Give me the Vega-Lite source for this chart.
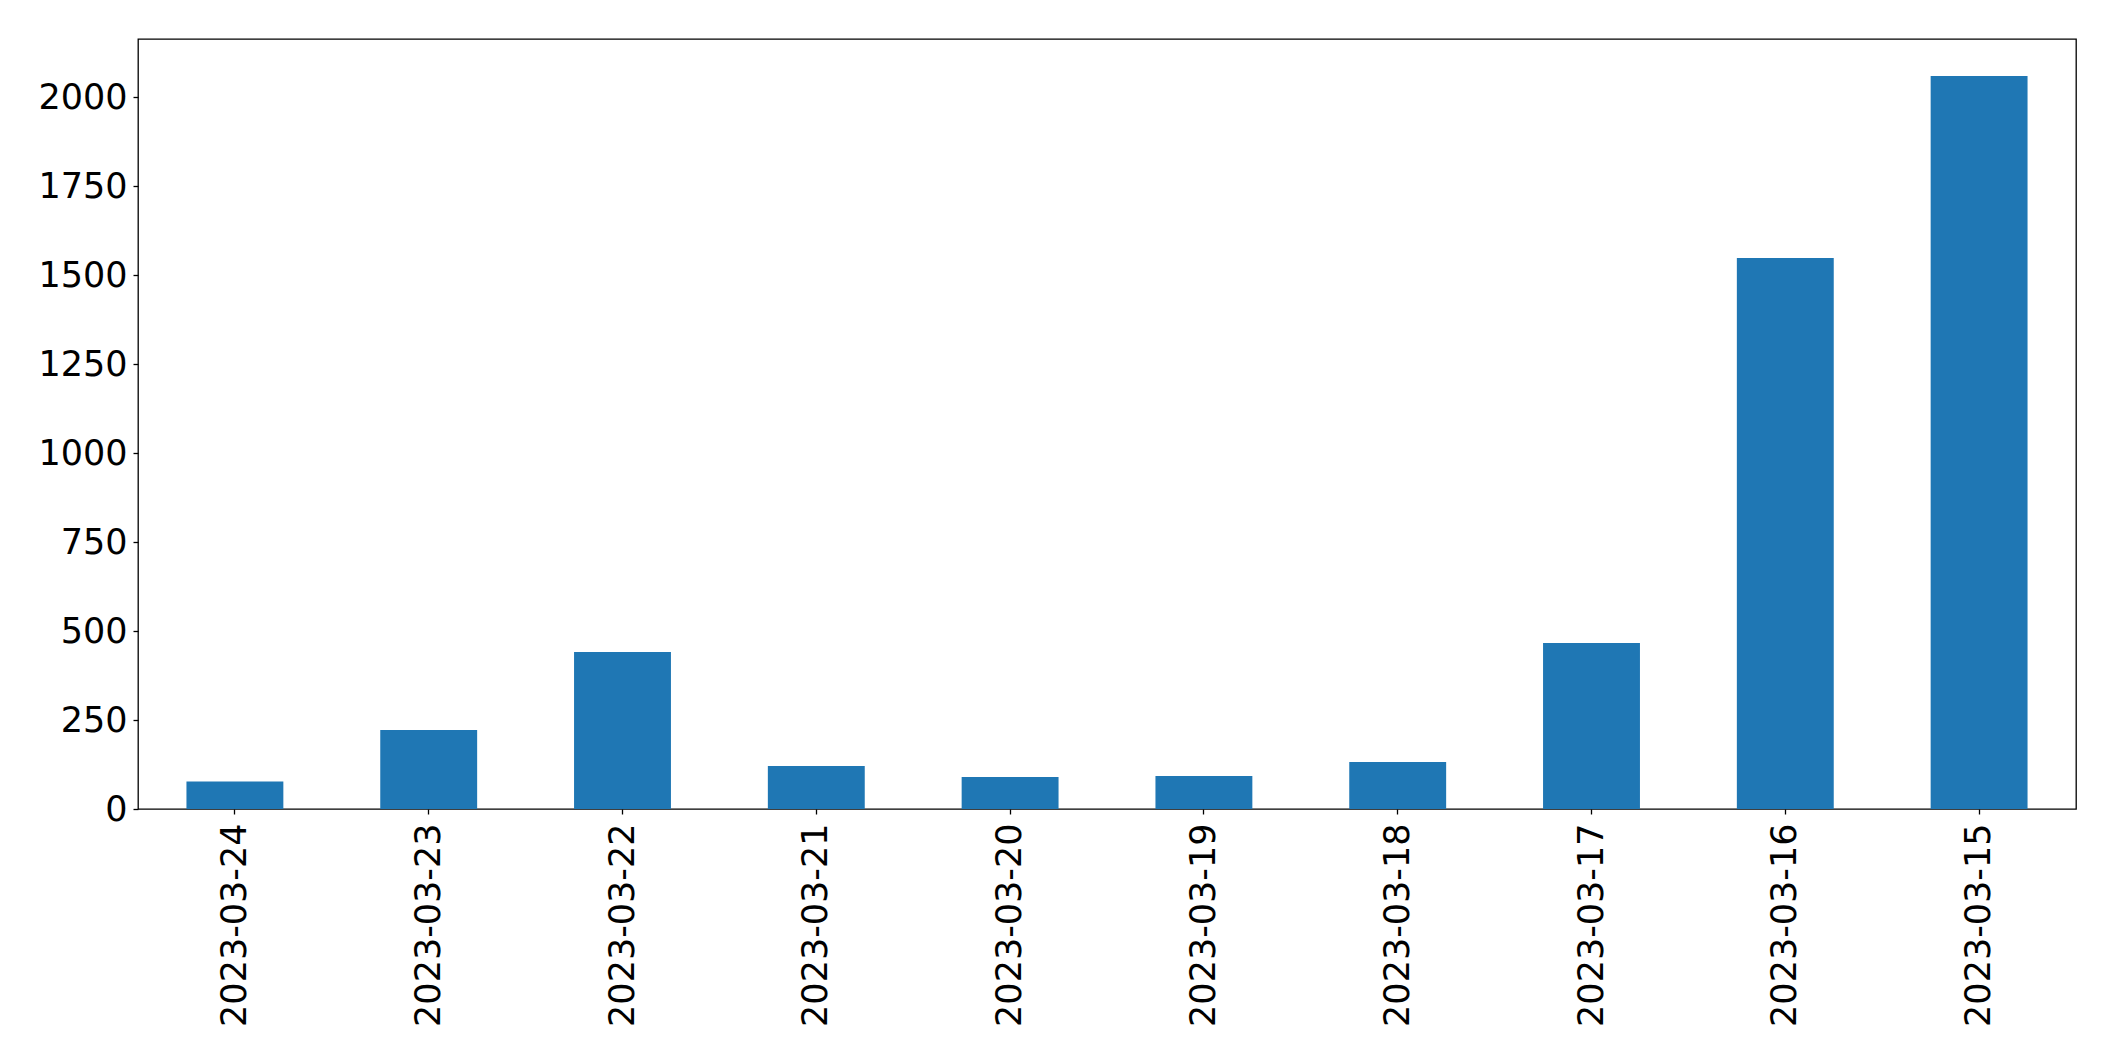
{
  "$schema": "https://vega.github.io/schema/vega-lite/v6.json",
  "autosize": "none",
  "padding": {"left": 138, "top": 39, "right": 39, "bottom": 252},
  "width": 1938,
  "height": 770,
  "background": "white",
  "config": {
    "view": {"stroke": "black", "strokeWidth": 1.3},
    "axis": {"labelFont": "DejaVu Sans", "labelFontSize": 35, "labelColor": "black", "labelLimit": 0, "tickColor": "black", "domain": false, "grid": false, "tickSize": 5, "tickWidth": 1.3, "title": null}
  },
  "data": {
    "values": [
      {"date": "2023-03-24", "count": 77},
      {"date": "2023-03-23", "count": 222},
      {"date": "2023-03-22", "count": 441},
      {"date": "2023-03-21", "count": 121},
      {"date": "2023-03-20", "count": 90},
      {"date": "2023-03-19", "count": 93},
      {"date": "2023-03-18", "count": 132},
      {"date": "2023-03-17", "count": 466},
      {"date": "2023-03-16", "count": 1548},
      {"date": "2023-03-15", "count": 2059}
    ]
  },
  "mark": {"type": "bar", "color": "#1f77b4"},
  "encoding": {
    "x": {
      "field": "date", "type": "nominal", "sort": null,
      "scale": {"paddingInner": 0.5, "paddingOuter": 0.25},
      "axis": {"labelAngle": -90, "labelPadding": 9, "labelAlign": "right", "labelBaseline": "middle"}
    },
    "y": {
      "field": "count", "type": "quantitative",
      "scale": {"domain": [0, 2163], "nice": false},
      "axis": {"values": [0, 250, 500, 750, 1000, 1250, 1500, 1750, 2000], "format": "d", "labelPadding": 6}
    }
  }
}
